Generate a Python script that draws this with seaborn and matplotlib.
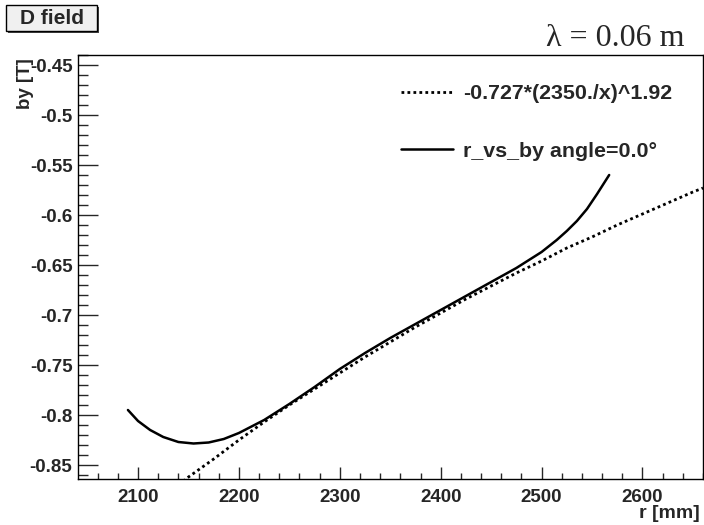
import numpy as np
import pandas as pd
import matplotlib
matplotlib.use("Agg")
import matplotlib.pyplot as plt
from matplotlib.patches import Rectangle
from matplotlib.ticker import MultipleLocator
import seaborn as sns

# fitted power law
r_fit = [2140, 2150, 2175, 2200, 2225, 2250, 2275, 2300, 2325, 2350, 2375, 2400,
         2425, 2450, 2475, 2500, 2525, 2550, 2575, 2600, 2625, 2650, 2660]
by_fit = [-0.870, -0.862, -0.844, -0.825, -0.807, -0.790, -0.774, -0.758, -0.742,
          -0.727, -0.712, -0.698, -0.684, -0.671, -0.658, -0.646, -0.633, -0.622,
          -0.610, -0.599, -0.588, -0.577, -0.573]

# measured field, solid curve
r_data = [2090, 2100, 2112, 2125, 2140, 2155, 2170, 2185, 2200, 2225, 2250, 2275,
          2300, 2325, 2350, 2375, 2400, 2425, 2450, 2475, 2500, 2515, 2525, 2535,
          2545, 2555, 2567]
by_data = [-0.795, -0.806, -0.815, -0.822, -0.827, -0.8285, -0.8275, -0.824, -0.818,
           -0.805, -0.789, -0.772, -0.754, -0.738, -0.723, -0.709, -0.695, -0.681,
           -0.667, -0.653, -0.637, -0.625, -0.616, -0.606, -0.594, -0.579, -0.560]

fit_label = "-0.727*(2350./x)^1.92"
data_label = "r_vs_by angle=0.0\u00b0"

sns.set_style("ticks")
plt.rcParams["font.family"] = ["Liberation Sans", "DejaVu Sans"]
plt.rcParams["font.weight"] = "bold"

W, H = 704, 525
fig = plt.figure(figsize=(W / 100, H / 100), dpi=100)
ax = fig.add_axes([78 / W, 1 - 479 / H, 625 / W, 424 / H])

df_fit = pd.DataFrame({"r": r_fit, "by": by_fit})
df_data = pd.DataFrame({"r": r_data, "by": by_data})

sns.lineplot(data=df_fit, x="r", y="by", ax=ax, color="black", lw=2.0,
             linestyle=(0, (1, 1.15)), estimator=None, label=fit_label)
sns.lineplot(data=df_data, x="r", y="by", ax=ax, color="black", lw=1.8,
             estimator=None, label=data_label)

ax.set_xlim(2040.5, 2660)
ax.set_ylim(-0.864, -0.44)
ax.set_xlabel("")
ax.set_ylabel("")

ax.xaxis.set_major_locator(MultipleLocator(100))
ax.xaxis.set_minor_locator(MultipleLocator(20))
ax.yaxis.set_major_locator(MultipleLocator(0.05))
ax.yaxis.set_minor_locator(MultipleLocator(0.01))
ax.yaxis.set_major_formatter(plt.FuncFormatter(lambda v, p: f"{v:g}"))

ax.tick_params(axis="x", which="major", direction="in", length=9, width=1,
               labelsize=13.5, pad=7)
ax.tick_params(axis="x", which="minor", direction="in", length=4.3, width=1)
ax.tick_params(axis="y", which="major", direction="in", length=14.4, width=1,
               labelsize=13.5, pad=4)
ax.tick_params(axis="y", which="minor", direction="in", length=7.2, width=1)
for lab in ax.get_xticklabels() + ax.get_yticklabels():
    lab.set_fontweight("bold")

for side in ["top", "right", "left", "bottom"]:
    ax.spines[side].set_visible(True)
    ax.spines[side].set_linewidth(1)
    ax.spines[side].set_color("black")

leg = ax.legend(loc="upper left", bbox_to_anchor=(382 / W, 1 - 65 / H),
                bbox_transform=fig.transFigure, frameon=False,
                prop={"weight": "bold", "size": 15.4}, handlelength=2.4,
                handletextpad=0.5, labelspacing=1.8, borderpad=0.4)

# axis titles, ROOT style
fig.text(700 / W, 1 - 518 / H, "r [mm]", ha="right", va="baseline",
         fontsize=14, fontweight="bold")
fig.text(25 / W, 1 - 58 / H, "by [T]", ha="center", va="top", rotation=90,
         fontsize=13.5, fontweight="bold")

# title box with shadow
fig.patches.append(Rectangle((8 / W, 1 - 33 / H), 91 / W, 26 / H,
                             transform=fig.transFigure, fc="#444444", ec="none"))
fig.patches.append(Rectangle((6 / W, 1 - 31 / H), 91 / W, 26 / H,
                             transform=fig.transFigure, fc="#f0f0f0", ec="black", lw=1))
fig.text(51.5 / W, 1 - 18 / H, "D field", ha="center", va="center",
         fontsize=15, fontweight="bold")
fig.text(684 / W, 1 - 46 / H, "\u03bb = 0.06 m", ha="right", va="baseline",
         fontsize=23, family=["Liberation Serif", "DejaVu Serif"], fontweight="normal")

fig.savefig("out.png", dpi=100)
